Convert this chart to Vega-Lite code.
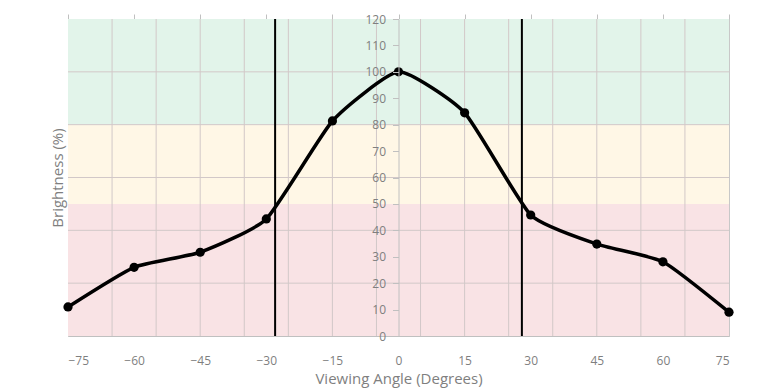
{
  "$schema": "https://vega.github.io/schema/vega-lite/v6.json",
  "width": 661,
  "height": 317,
  "autosize": {"type": "none"},
  "padding": {"left": 68, "top": 19, "right": 28, "bottom": 54},
  "background": "white",
  "config": {
    "view": {"stroke": "#c8c8c8", "strokeWidth": 1},
    "font": "Open Sans",
    "axis": {"labelColor": "#7f7f7f", "titleColor": "#7f7f7f", "labelFont": "Open Sans", "titleFont": "Open Sans", "labelFontSize": 12, "titleFontSize": 15, "titleFontWeight": "normal", "domainColor": "#c0c0c0", "tickColor": "#c0c0c0"}
  },
  "datasets": {
    "bands": [
      {"lo": 0, "hi": 50, "zone": "poor"},
      {"lo": 50, "hi": 80, "zone": "fair"},
      {"lo": 80, "hi": 120, "zone": "good"}
    ],
    "vgrid": [
      {"gx": -65}, {"gx": -55}, {"gx": -45}, {"gx": -35}, {"gx": -25}, {"gx": -15}, {"gx": -5},
      {"gx": 5}, {"gx": 15}, {"gx": 25}, {"gx": 35}, {"gx": 45}, {"gx": 55}, {"gx": 65}
    ],
    "hgrid": [{"gy": 20}, {"gy": 40}, {"gy": 60}, {"gy": 80}, {"gy": 100}],
    "limits": [{"lx": -28}, {"lx": 28}],
    "measure": [
      {"angle": -75, "brightness": 11},
      {"angle": -60, "brightness": 26},
      {"angle": -45, "brightness": 31.7},
      {"angle": -30, "brightness": 44.3},
      {"angle": -15, "brightness": 81.4},
      {"angle": 0, "brightness": 100},
      {"angle": 15, "brightness": 84.5},
      {"angle": 30, "brightness": 45.8},
      {"angle": 45, "brightness": 34.8},
      {"angle": 60, "brightness": 28.1},
      {"angle": 75, "brightness": 9}
    ]
  },
  "resolve": {"axis": {"x": "independent", "y": "independent"}},
  "layer": [
    {
      "data": {"name": "bands"},
      "mark": {"type": "rect"},
      "encoding": {
        "y": {"field": "lo", "type": "quantitative", "scale": {"domain": [0, 120], "nice": false},
          "axis": {"orient": "left", "title": "Brightness (%)", "labels": false, "ticks": false, "domain": false, "grid": false, "titlePadding": 3}},
        "y2": {"field": "hi"},
        "color": {"field": "zone", "type": "nominal", "legend": null,
          "scale": {"domain": ["poor", "fair", "good"], "range": ["#f9e3e5", "#fff7e6", "#e2f4ea"]}}
      }
    },
    {
      "data": {"name": "vgrid"},
      "mark": {"type": "rule", "color": "#d2c8c8", "strokeWidth": 1},
      "encoding": {
        "x": {"field": "gx", "type": "quantitative", "scale": {"domain": [-75, 75], "nice": false},
          "axis": {"orient": "top", "values": [-75, -60, -45, -30, -15, 0, 15, 30, 45, 60, 75], "labels": false, "ticks": true, "tickSize": 5, "domain": true, "grid": false, "title": null}}
      }
    },
    {
      "data": {"name": "hgrid"},
      "mark": {"type": "rule", "color": "#d2c8c8", "strokeWidth": 1},
      "encoding": {
        "y": {"field": "gy", "type": "quantitative", "axis": null}
      }
    },
    {
      "data": {"name": "limits"},
      "mark": {"type": "rule", "color": "#000000", "strokeWidth": 2},
      "encoding": {
        "x": {"field": "lx", "type": "quantitative", "axis": null}
      }
    },
    {
      "data": {"name": "measure"},
      "mark": {"type": "line", "interpolate": "cardinal", "tension": 0.5, "color": "#000000", "strokeWidth": 3.5},
      "encoding": {
        "x": {"field": "angle", "type": "quantitative",
          "axis": {"orient": "bottom", "values": [-75, -60, -45, -30, -15, 0, 15, 30, 45, 60, 75], "ticks": false, "domain": true, "grid": false, "labelPadding": 19, "title": "Viewing Angle (Degrees)", "titlePadding": 5}},
        "y": {"field": "brightness", "type": "quantitative",
          "axis": {"orient": "left", "offset": -330.5, "zindex": 1, "labelOverlap": false, "labelBound": false, "labelFlush": false, "values": [0, 10, 20, 30, 40, 50, 60, 70, 80, 90, 100, 110, 120], "domain": true, "ticks": true, "tickSize": 6, "labelPadding": 7, "grid": false, "title": null}}
      }
    },
    {
      "data": {"name": "measure"},
      "mark": {"type": "point", "filled": true, "color": "#000000", "opacity": 1, "size": 85},
      "encoding": {
        "x": {"field": "angle", "type": "quantitative", "axis": null},
        "y": {"field": "brightness", "type": "quantitative", "axis": null}
      }
    }
  ]
}
